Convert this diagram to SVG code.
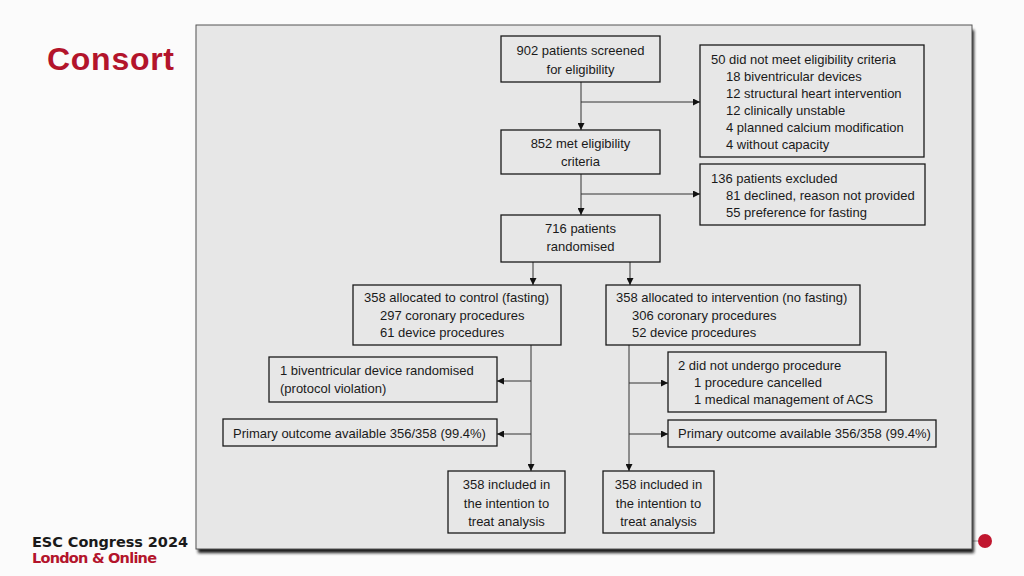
<svg xmlns="http://www.w3.org/2000/svg" width="1024" height="576" viewBox="0 0 1024 576">
<defs>
<style>
.box{fill:none;stroke:#1a1a1a;stroke-width:1.3}
.t{font-family:"Liberation Sans",Arial,sans-serif;font-size:13px;fill:#1a1a1a}
.c{text-anchor:middle}
.ln{stroke:#333;stroke-width:1;fill:none}
</style>
<marker id="ar" viewBox="0 0 10 10" refX="10" refY="5" markerWidth="7" markerHeight="7" orient="auto" markerUnits="userSpaceOnUse"><path d="M0,0 L10,5 L0,10 z" fill="#111"/></marker>
<filter id="sh" x="-5%" y="-5%" width="110%" height="115%"><feGaussianBlur stdDeviation="1.5"/></filter>
</defs>
<rect width="1024" height="576" fill="#fbfbfb"/>
<text x="47" y="70" font-family="'Liberation Sans',Arial,sans-serif" font-weight="bold" font-size="32" fill="#b3142b" textLength="127">Consort</text>
<text x="32" y="547" font-family="'DejaVu Sans',Verdana,sans-serif" font-weight="bold" font-size="14.5" fill="#1a1a1a" textLength="156">ESC Congress 2024</text>
<text x="32" y="563" font-family="'DejaVu Sans',Verdana,sans-serif" font-weight="bold" font-size="14.5" fill="#b3142b" textLength="125">London &amp; Online</text>
<line x1="972" y1="541" x2="980" y2="541" stroke="#999" stroke-width="1"/>
<circle cx="985" cy="541" r="7" fill="#c0172f"/>
<rect x="198" y="30" width="776" height="523" fill="#1a1a1a" filter="url(#sh)"/>
<rect x="196" y="25" width="776" height="524" fill="#e7e7e7" stroke="#555" stroke-width="1"/>
<g id="connectors">
<line class="ln" x1="581" y1="82" x2="581" y2="130" marker-end="url(#ar)"/>
<line class="ln" x1="581" y1="102" x2="700" y2="102" marker-end="url(#ar)"/>
<line class="ln" x1="581" y1="174" x2="581" y2="215" marker-end="url(#ar)"/>
<line class="ln" x1="581" y1="194" x2="700" y2="194" marker-end="url(#ar)"/>
<line class="ln" x1="533" y1="262" x2="533" y2="285" marker-end="url(#ar)"/>
<line class="ln" x1="630" y1="262" x2="630" y2="285" marker-end="url(#ar)"/>
<line class="ln" x1="531" y1="345" x2="531" y2="471" marker-end="url(#ar)"/>
<line class="ln" x1="531" y1="381" x2="497" y2="381" marker-end="url(#ar)"/>
<line class="ln" x1="531" y1="434" x2="497" y2="434" marker-end="url(#ar)"/>
<line class="ln" x1="629" y1="345" x2="629" y2="471" marker-end="url(#ar)"/>
<line class="ln" x1="629" y1="383" x2="668" y2="383" marker-end="url(#ar)"/>
<line class="ln" x1="629" y1="434" x2="668" y2="434" marker-end="url(#ar)"/>
</g>
<g id="screened">
<rect class="box" x="501" y="36" width="159" height="46"/>
<text class="t c" x="580.5" y="55">902 patients screened</text>
<text class="t c" x="580.5" y="74">for eligibility</text>
</g>
<g id="not-eligible">
<rect class="box" x="700" y="45" width="224" height="112"/>
<text class="t" x="711" y="64">50 did not meet eligibility criteria</text>
<text class="t" x="726" y="81">18 biventricular devices</text>
<text class="t" x="726" y="98">12 structural heart intervention</text>
<text class="t" x="726" y="115">12 clinically unstable</text>
<text class="t" x="726" y="132">4 planned calcium modification</text>
<text class="t" x="726" y="149">4 without capacity</text>
</g>
<g id="eligible">
<rect class="box" x="501" y="130" width="159" height="44"/>
<text class="t c" x="580.5" y="148">852 met eligibility</text>
<text class="t c" x="580.5" y="166">criteria</text>
</g>
<g id="excluded">
<rect class="box" x="700" y="164" width="225" height="61"/>
<text class="t" x="711" y="183">136 patients excluded</text>
<text class="t" x="726" y="200">81 declined, reason not provided</text>
<text class="t" x="726" y="217">55 preference for fasting</text>
</g>
<g id="randomised">
<rect class="box" x="501" y="215" width="159" height="47"/>
<text class="t c" x="580.5" y="233">716 patients</text>
<text class="t c" x="580.5" y="251">randomised</text>
</g>
<g id="control">
<rect class="box" x="353" y="285" width="208" height="60"/>
<text class="t" x="364" y="302">358 allocated to control (fasting)</text>
<text class="t" x="380" y="320">297 coronary procedures</text>
<text class="t" x="380" y="337">61 device procedures</text>
</g>
<g id="intervention">
<rect class="box" x="606" y="285" width="254" height="60"/>
<text class="t" x="616" y="302">358 allocated to intervention (no fasting)</text>
<text class="t" x="632" y="320">306 coronary procedures</text>
<text class="t" x="632" y="337">52 device procedures</text>
</g>
<g id="protocol-violation">
<rect class="box" x="269" y="357" width="228" height="45"/>
<text class="t" x="280" y="375">1 biventricular device randomised</text>
<text class="t" x="280" y="393">(protocol violation)</text>
</g>
<g id="no-procedure">
<rect class="box" x="668" y="352" width="218" height="60"/>
<text class="t" x="678" y="370">2 did not undergo procedure</text>
<text class="t" x="694" y="387">1 procedure cancelled</text>
<text class="t" x="694" y="404">1 medical management of ACS</text>
</g>
<g id="primary-left">
<rect class="box" x="223" y="419" width="274" height="27"/>
<text class="t" x="233" y="438">Primary outcome available 356/358 (99.4%)</text>
</g>
<g id="primary-right">
<rect class="box" x="668" y="420" width="268" height="27"/>
<text class="t" x="678" y="438">Primary outcome available 356/358 (99.4%)</text>
</g>
<g id="itt-left">
<rect class="box" x="448" y="471" width="117" height="62"/>
<text class="t c" x="506.5" y="489">358 included in</text>
<text class="t c" x="506.5" y="508">the intention to</text>
<text class="t c" x="506.5" y="526">treat analysis</text>
</g>
<g id="itt-right">
<rect class="box" x="603" y="471" width="111" height="62"/>
<text class="t c" x="658.5" y="489">358 included in</text>
<text class="t c" x="658.5" y="508">the intention to</text>
<text class="t c" x="658.5" y="526">treat analysis</text>
</g>
</svg>
